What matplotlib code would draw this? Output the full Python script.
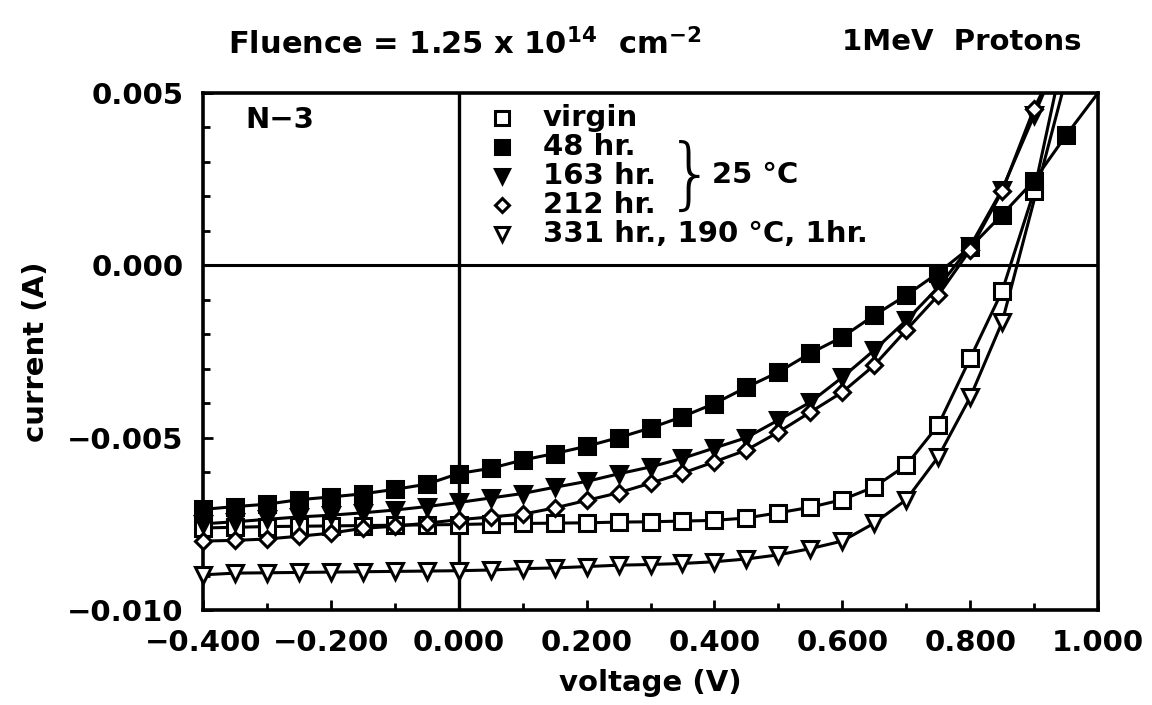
import numpy as np
import matplotlib
matplotlib.use("Agg")
import matplotlib.pyplot as plt
from matplotlib.ticker import MultipleLocator, FixedLocator

plt.rcParams['font.family'] = ['DejaVu Sans']
plt.rcParams['font.weight'] = 'bold'
plt.rcParams['axes.labelweight'] = 'bold'
plt.rcParams['mathtext.fontset'] = 'dejavusans'
plt.rcParams['mathtext.default'] = 'bf'

# ---------------- data (current in mA) ----------------
voltage = [-0.40, -0.35, -0.30, -0.25, -0.20, -0.15, -0.10, -0.05, 0.00,
           0.05, 0.10, 0.15, 0.20, 0.25, 0.30, 0.35, 0.40, 0.45, 0.50,
           0.55, 0.60, 0.65, 0.70, 0.75, 0.80, 0.85, 0.90, 0.95]

virgin = [-7.62, -7.60, -7.58, -7.57, -7.56, -7.55, -7.54, -7.53, -7.52,
          -7.50, -7.49, -7.48, -7.47, -7.45, -7.44, -7.42, -7.40, -7.33, -7.18,
          -7.02, -6.80, -6.43, -5.80, -4.64, -2.70, -0.75, 2.15]
hr48 = [-7.08, -7.00, -6.93, -6.80, -6.72, -6.63, -6.50, -6.35, -6.04,
        -5.89, -5.65, -5.46, -5.25, -5.00, -4.72, -4.39, -4.01, -3.54, -3.10,
        -2.55, -2.08, -1.45, -0.87, -0.22, 0.52, 1.47, 2.46, 3.77]
hr163 = [-7.50, -7.44, -7.37, -7.30, -7.25, -7.18, -7.10, -7.00, -6.88,
         -6.75, -6.62, -6.44, -6.27, -6.05, -5.85, -5.60, -5.30, -5.00, -4.49,
         -3.97, -3.25, -2.46, -1.60, -0.64, 0.55, 2.20, 4.35]
hr212 = [-8.00, -7.98, -7.94, -7.86, -7.77, -7.63, -7.57, -7.48, -7.38,
         -7.30, -7.22, -7.04, -6.82, -6.60, -6.32, -6.03, -5.70, -5.36, -4.84,
         -4.26, -3.68, -2.90, -1.88, -0.87, 0.45, 2.15, 4.55]
hr331 = [-8.98, -8.93, -8.92, -8.91, -8.90, -8.89, -8.88, -8.87, -8.86,
         -8.84, -8.80, -8.78, -8.74, -8.70, -8.68, -8.65, -8.60, -8.52, -8.40,
         -8.22, -8.00, -7.48, -6.80, -5.56, -3.83, -1.65]

# voltage where each fitted curve leaves the top of the frame (I = 5 mA)
curve_top_v = {'virgin': 0.933, '48': 1.000, '163': 0.915, '212': 0.912, '331': 0.944}
curve_top_i = 5.0

series = [
    ('virgin', virgin, 's', 'white', 'virgin'),
    ('48', hr48, 's', 'black', '48 hr.'),
    ('163', hr163, 'v', 'black', '163 hr.'),
    ('212', hr212, 'D', 'white', '212 hr.'),
    ('331', hr331, 'v', 'white', '331 hr., 190 \u00b0C, 1hr.'),
]

W, H = 1152, 705
fig = plt.figure(figsize=(W / 100, H / 100), dpi=100)
L, R, T, B = 203, 1098, 93, 610
ax = fig.add_axes([L / W, 1 - B / H, (R - L) / W, (B - T) / H])

msizes = {'s': 11, 'v': 11, 'D': 8}
for key, vals, mk, fc, lab in series:
    v = np.array(voltage[:len(vals)])
    i = np.array(vals) * 1e-3
    lv = np.append(v, curve_top_v[key])
    li = np.append(i, curve_top_i * 1e-3)
    ax.plot(lv, li, '-', color='black', lw=2.2, zorder=2, clip_on=True)
    ax.plot(v, i, linestyle='none', marker=mk, ms=msizes[mk], mfc=fc,
            mec='black', mew=2.2, zorder=3, clip_on=False)

ax.axhline(0, color='black', lw=2.2, zorder=1)
ax.axvline(0, color='black', lw=2.4, zorder=1)

ax.set_xlim(-0.4, 1.0)
ax.set_ylim(-0.010, 0.005)

for s in ['left', 'bottom', 'right', 'top']:
    ax.spines[s].set_linewidth(2.6)

xt = [-0.4, -0.2, 0.0, 0.2, 0.4, 0.6, 0.8, 1.0]
ax.xaxis.set_major_locator(FixedLocator(xt))
ax.xaxis.set_minor_locator(MultipleLocator(0.1))
ax.set_xticklabels([('%.3f' % t).replace('-', '\u2212') for t in xt])
yt = [-0.010, -0.005, 0.0, 0.005]
ax.yaxis.set_major_locator(FixedLocator(yt))
ax.yaxis.set_minor_locator(MultipleLocator(0.001))
ax.set_yticklabels([('%.3f' % t).replace('-', '\u2212') for t in yt])

ax.tick_params(which='both', direction='in', top=False, right=False,
               width=2, labelsize=21)
ax.tick_params(which='major', length=7)
ax.tick_params(axis='x', which='major', pad=14)
ax.tick_params(axis='y', which='major', pad=14)
ax.tick_params(which='minor', length=5)

ax.set_xlabel('voltage (V)', fontsize=21, labelpad=8)
ax.set_ylabel('current (A)', fontsize=21, labelpad=12)

# titles
fig.text(228 / W, 1 - 44 / H, 'Fluence = 1.25 x 10$^{14}$  cm$^{-2}$',
         fontsize=22, va='center', ha='left')
fig.text(842 / W, 1 - 42 / H, '1MeV  Protons', fontsize=21, va='center', ha='left')

# panel label
def axc(px, py):
    return ((px - L) / (R - L), (B - py) / (B - T))

ax.text(*axc(245, 120), 'N\u22123', fontsize=21, va='center', ha='left',
        transform=ax.transAxes)

# legend
rows_y = [118, 147, 176, 205, 234]
for (key, vals, mk, fc, lab), py in zip(series, rows_y):
    x0, y0 = axc(502, py)
    ax.plot([x0], [y0], marker=mk, ms=msizes[mk] * 0.9, mfc=fc, mec='black',
            mew=2.2, transform=ax.transAxes, clip_on=False, zorder=4)
    ax.text(*axc(543, py), lab, fontsize=21, va='center', ha='left',
            transform=ax.transAxes)

ax.text(*axc(666, 178), '}', fontsize=56, fontweight='light', va='center',
        ha='left', transform=ax.transAxes)
ax.text(*axc(712, 175), '25 \u00b0C', fontsize=21, va='center', ha='left',
        transform=ax.transAxes)

fig.savefig('out.png', dpi=100)
